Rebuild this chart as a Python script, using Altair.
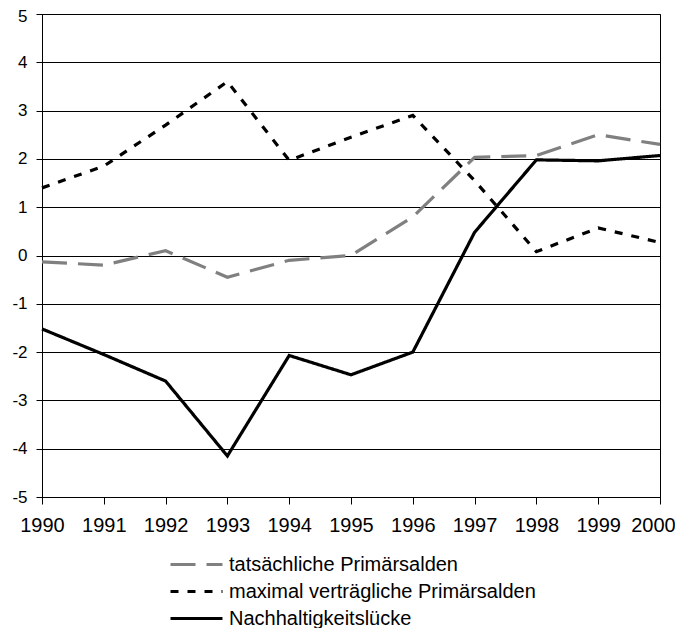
import altair as alt
import pandas as pd

years = [1990, 1991, 1992, 1993, 1994, 1995, 1996, 1997, 1998, 1999, 2000]
tatsaechlich = [-0.13, -0.2, 0.1, -0.45, -0.1, 0.0, 0.8, 2.03, 2.07, 2.5, 2.3]
maximal = [1.4, 1.85, 2.7, 3.6, 1.97, 2.45, 2.9, 1.55, 0.08, 0.57, 0.27]
luecke = [-1.52, -2.05, -2.6, -4.15, -2.07, -2.47, -2.0, 0.48, 1.98, 1.96, 2.07]

series_names = ["tatsächliche Primärsalden", "maximal verträgliche Primärsalden", "Nachhaltigkeitslücke"]
y_ticks = [-5, -4, -3, -2, -1, 0, 1, 2, 3, 4, 5]

rows = []
for name, vals in zip(series_names, [tatsaechlich, maximal, luecke]):
    for yr, v in zip(years, vals):
        rows.append({"Jahr": yr, "Wert": v, "Reihe": name})
df = pd.DataFrame(rows)

font = "Liberation Sans"

def make_legend():
    return alt.Legend(title=None, orient="none", legendX=138, legendY=534,
                      direction="vertical", symbolType="M-1.78,0H1.78",
                      symbolSize=853, symbolStrokeWidth=3,
                      symbolFillColor="transparent",
                      labelFontSize=20, labelFont=font, labelColor="black",
                      labelOffset=16, rowPadding=0, labelLimit=500)

chart = alt.Chart(df).mark_line(strokeCap="butt", strokeJoin="miter").encode(
    x=alt.X("Jahr:Q", scale=alt.Scale(domain=[1990, 2000], nice=False, zero=False),
            axis=alt.Axis(values=years, labelExpr="'' + datum.value", title=None, grid=False,
                          tickSize=7, labelPadding=11, labelFontSize=20,
                          labelOffset={"condition": {"test": "datum.value == 2000", "value": -7},
                                       "value": 0},
                          labelFont=font, labelColor="black", domainColor="black",
                          tickColor="black", labelFlush=False, labelOverlap=False)),
    y=alt.Y("Wert:Q", scale=alt.Scale(domain=[-5, 5], nice=False, zero=False),
            axis=alt.Axis(values=y_ticks, labelExpr="'' + datum.value", title=None, grid=True,
                          gridColor="black", gridOpacity=1, gridWidth=1, tickSize=6,
                          labelPadding=9, labelFontSize=17, labelFont=font,
                          labelOffset={"condition": {"test": "datum.value == 5", "value": 2},
                                       "value": 0},
                          labelColor="black", domainColor="black", tickColor="black",
                          labelFlush=False, labelOverlap=False)),
    color=alt.Color("Reihe:N", scale=alt.Scale(domain=series_names,
                                               range=["#808080", "#000000", "#000000"]),
                    legend=make_legend()),
    strokeDash=alt.StrokeDash("Reihe:N", scale=alt.Scale(domain=series_names,
                                                         range=[[25, 11], [8, 9], [1, 0]]),
                              legend=make_legend()),
    strokeWidth=alt.value(3.2),
    order=alt.Order("Jahr:Q"),
).properties(
    width=618, height=483,
    autosize=alt.AutoSizeParams(type="none"),
    padding={"left": 34, "top": 6, "right": 15, "bottom": 131},
).configure_view(stroke="black", strokeWidth=1)

chart.save("out.html", embed_options={"renderer": "svg", "actions": False})
